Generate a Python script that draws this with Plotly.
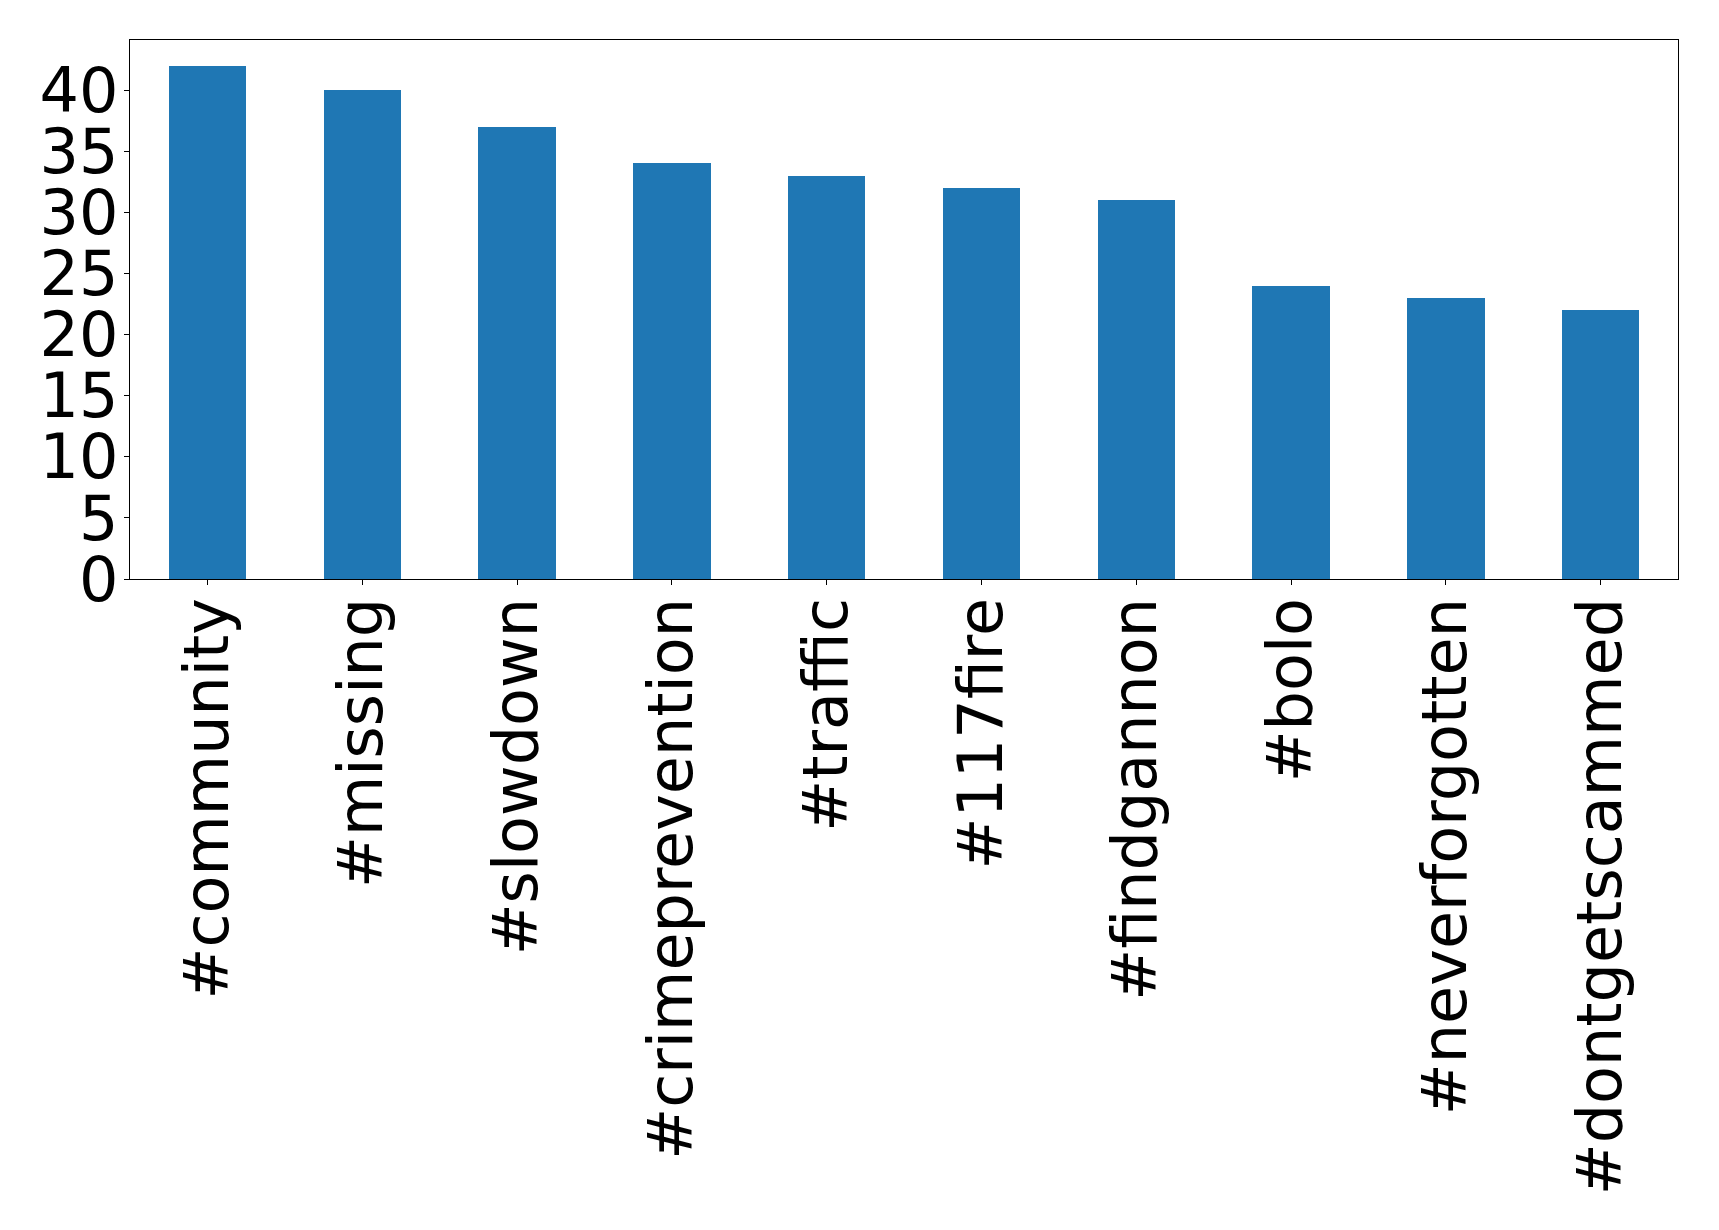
import plotly.graph_objects as go

categories = ["#community", "#missing", "#slowdown", "#crimeprevention", "#traffic",
              "#117fire", "#findgannon", "#bolo", "#neverforgotten", "#dontgetscammed"]
counts = [42, 40, 37, 34, 33, 32, 31, 24, 23, 22]
y_ticks = [0, 5, 10, 15, 20, 25, 30, 35, 40]

fig = go.Figure(go.Bar(x=categories, y=counts, width=0.5, marker_color="#1f77b4",
                       marker_line_width=0))

axis_common = dict(showline=True, linecolor="black", linewidth=1.3, mirror=True,
                   ticks="outside", ticklen=5, tickcolor="black", tickwidth=1.3,
                   showgrid=False, zeroline=False,
                   tickfont=dict(family="DejaVu Sans", size=62, color="black"))

fig.update_layout(
    width=1711, height=1222,
    margin=dict(l=122, r=41, t=32, b=651, autoexpand=False),
    plot_bgcolor="white", paper_bgcolor="white",
    showlegend=False,
    xaxis=dict(range=[-0.5, 9.5], tickangle=-90, automargin=False,
               ticklabelstandoff=-12, **axis_common),
    yaxis=dict(range=[0, 44.1], tickvals=y_ticks, automargin=False,
               ticklabelstandoff=-7, **axis_common),
    bargap=0,
)

fig.write_html("out.html")
